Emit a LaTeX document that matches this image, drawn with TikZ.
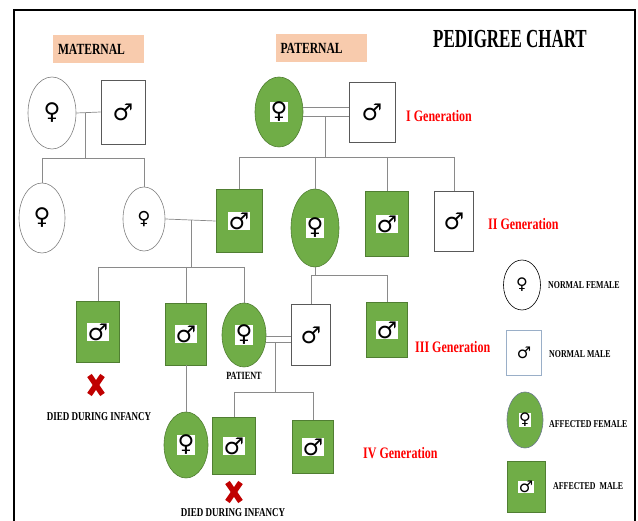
\documentclass[tikz,border=0pt]{standalone}
\usepackage{fontspec}
\usetikzlibrary{shapes.geometric,calc}
\newfontfamily\sym{DejaVu Sans}
\newfontfamily\lab{Liberation Serif}[FakeStretch=0.75]
\definecolor{affg}{HTML}{70AD47}
\definecolor{affb}{HTML}{507E32}
\definecolor{peach}{HTML}{F8CBAD}
\definecolor{xred}{HTML}{C00000}
\definecolor{lnc}{HTML}{8A8A8A}
\definecolor{bluegray}{HTML}{9AAFC8}
\newcommand{\wsym}[1]{{\setlength{\fboxsep}{0.5pt}\colorbox{white}{#1}}}
\begin{document}
\begin{tikzpicture}[x=1pt,y=-1pt,
  symfont/.style={font=\sym\fontsize{23}{26}\selectfont},
  fem/.style={ellipse, draw=gray, line width=0.6pt, fill=white, inner sep=0pt, symfont},
  afem/.style={fem, fill=affg, draw=affb},
  mal/.style={rectangle, draw=gray!70!black, line width=0.6pt, fill=white, inner sep=0pt, symfont},
  amal/.style={mal, fill=affg, draw=affb},
  sz/.style 2 args={minimum width=#1pt, minimum height=#2pt},
  conn/.style={draw=lnc, line width=0.7pt},
  gen/.style={font=\lab\bfseries\fontsize{16}{18}\selectfont, text=red, anchor=west, inner sep=0pt},
  tag/.style={fill=peach, minimum height=28pt, text width=81pt, inner xsep=5pt, align=left, font=\lab\bfseries\fontsize{15.5}{17}\selectfont},
  leg/.style={font=\lab\bfseries\fontsize{10.5}{12}\selectfont, anchor=west, inner sep=0pt},
  note/.style={font=\lab\bfseries\fontsize{12}{14}\selectfont, inner sep=0pt},
  legsym/.style={font=\sym\fontsize{16}{18}\selectfont},
  deadx/.pic={\draw[xred, line width=5.5pt] (-6.5,-9.5) -- (6.5,9.5) (-6.5,9.5) -- (6.5,-9.5);}
]
\useasboundingbox (0,0) rectangle (638,521);
\fill[white] (0,0) rectangle (638,521);
% frame
\draw[black, line width=1.5pt] (14,521) -- (14,10) -- (635,10) -- (635,521);

% headings
\node[tag] (mat) at (98.5,49) {MATERNAL};
\node[tag] (pat0) at (321,48.5) {PATERNAL};
\node[font=\lab\bfseries\fontsize{26}{28}\selectfont, inner sep=0pt] (title) at (510,39) {\scalebox{0.87}[1]{PEDIGREE CHART}};

% Generation I
\node[fem, sz={48}{72}] (gm) at (52,113) {♀};
\node[mal, sz={44}{64}] (gf) at (123,112) {♂};
\node[afem, sz={48}{70}] (pgm) at (279,112) {\wsym{♀}};
\node[mal, sz={46}{60}] (pgf) at (372,112) {♂};

% Generation II
\node[fem, sz={46}{70}] (m2a) at (42,218) {♀};
\node[fem, sz={42}{64}, font=\sym\fontsize{18}{20}\selectfont] (m2b) at (144,219) {♀};
\node[amal, sz={46}{63}] (p2a) at (239,221) {\wsym{♂}};
\node[afem, sz={48}{78}] (p2b) at (315,228) {\wsym{♀}};
\node[amal, sz={43}{65}] (p2c) at (387,224) {\wsym{♂}};
\node[mal, sz={39}{60}] (p2d) at (454,221) {♂};

% Generation III
\node[amal, sz={43}{61}] (g3a) at (98,332) {\wsym{♂}};
\node[amal, sz={41}{62}] (g3b) at (186,334) {\wsym{♂}};
\node[afem, sz={44}{64}] (pat) at (244,335) {\wsym{♀}};
\node[mal, sz={39}{61}] (hub) at (311,335) {♂};
\node[amal, sz={41}{55}] (g3c) at (387,330) {\wsym{♂}};

% Generation IV
\node[afem, sz={44}{66}] (g4a) at (186,445) {\wsym{♀}};
\node[amal, sz={43}{57}] (g4b) at (234,446) {\wsym{♂}};
\node[amal, sz={41}{53}] (g4c) at (313,447) {\wsym{♂}};

% connectors: maternal gen I
\draw[conn] (gm.east) -- (gf.west);
\coordinate (mj) at ($(gm.east)!0.36!(gf.west)$);
\coordinate (ms) at (85,158);
\draw[conn] (mj) -- (mj |- ms);
\draw[conn] (m2a.north |- ms) -- (m2b.north |- ms);
\draw[conn] (m2a.north |- ms) -- (m2a.north);
\draw[conn] (m2b.north |- ms) -- (m2b.north);

% paternal gen I
\draw[conn] ($(pgm.east)+(0,-4.5)$) -- ($(pgf.west)+(0,-4.5)$);
\draw[conn] ($(pgm.east)+(0,4.5)$) -- ($(pgf.west)+(0,4.5)$);
\coordinate (pj) at (325,116.5);
\coordinate (ps) at (325,157);
\draw[conn] (pj) -- (ps);
\draw[conn] (p2a.north |- ps) -- (p2d.north |- ps);
\draw[conn] (p2a.north |- ps) -- (p2a.north);
\draw[conn] (p2b.north |- ps) -- (p2b.north);
\draw[conn] (p2c.north |- ps) -- (p2c.north);
\draw[conn] (p2d.north |- ps) -- (p2d.north);

% gen II marriage m2b x p2a
\draw[conn] (m2b.east) -- (p2a.west);
\coordinate (cj) at ($(m2b.east)!0.51!(p2a.west)$);
\coordinate (cs) at (191,267);
\draw[conn] (cj) -- (cj |- cs);
\draw[conn] (g3a.north |- cs) -- (pat.north |- cs);
\draw[conn] (g3a.north |- cs) -- (g3a.north);
\draw[conn] (g3b.north |- cs) -- (g3b.north);
\draw[conn] (pat.north |- cs) -- (pat.north);

% p2b children
\coordinate (bs) at (315,275);
\draw[conn] (p2b.south) -- (bs);
\draw[conn] (hub.north |- bs) -- (g3c.north |- bs);
\draw[conn] (hub.north |- bs) -- (hub.north);
\draw[conn] (g3c.north |- bs) -- (g3c.north);

% gen III marriage pat x hub
\draw[conn] ($(pat.east)+(0,1)$) -- ($(hub.west)+(0,1)$);
\draw[conn] ($(pat.east)+(0,7.5)$) -- ($(hub.west)+(0,7.5)$);
\coordinate (hj) at (275,342.5);
\coordinate (hs) at (275,392);
\draw[conn] (hj) -- (hs);
\draw[conn] (g4b.north |- hs) -- (g4c.north |- hs);
\draw[conn] (g4b.north |- hs) -- (g4b.north);
\draw[conn] (g4c.north |- hs) -- (g4c.north);

% g3b to g4a
\draw[conn] (g3b.south) -- (g4a.north);

% notes
\node[font=\lab\bfseries\fontsize{11}{13}\selectfont, inner sep=0pt] (patlab) at (244,376) {PATIENT};
\pic at (96,385) {deadx};
\node[note] (d1) at (99,417) {DIED DURING INFANCY};
\pic at (234,492) {deadx};
\node[note] (d2) at (233,513) {DIED DURING INFANCY};

% generation labels
\node[gen] (gI) at (406,116) {I Generation};
\node[gen] (gII) at (488,224) {II Generation};
\node[gen] (gIII) at (415,347) {III Generation};
\node[gen] (gIV) at (363,453) {IV Generation};

% legend
\node[fem, draw=black, sz={37}{50}, legsym] (lf) at (522,285) {♀};
\node[leg] (lft) at (548,285) {NORMAL FEMALE};
\node[mal, draw=bluegray, sz={35}{45}, legsym] (lm) at (524,353) {♂};
\node[leg] (lmt) at (549,354) {NORMAL MALE};
\node[afem, draw=bluegray!70!black, sz={36}{56}, legsym] (laf) at (525,420) {\wsym{♀}};
\node[leg] (laft) at (549,424) {AFFECTED FEMALE};
\node[amal, sz={38}{51}, legsym] (lam) at (526,487) {\wsym{♂}};
\node[leg] (lamt) at (553,486) {AFFECTED\ \ MALE};
\end{tikzpicture}
\end{document}
